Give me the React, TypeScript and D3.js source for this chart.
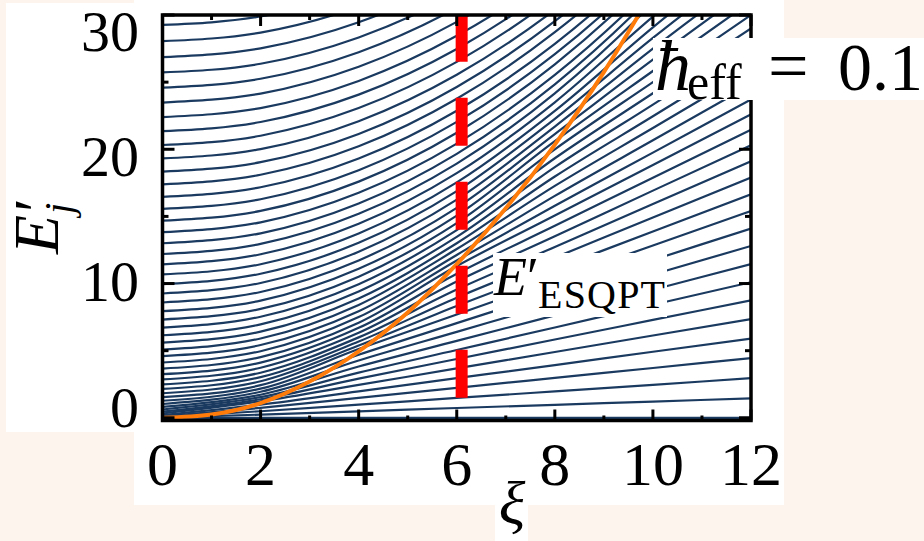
import React from "react";
import * as d3 from "d3";

const W = 924;
const H = 541;

// xi values at which every level was read
const levelXi = [0, 2, 4, 6, 8, 10, 12];

// levels that drop under the ESQPT curve inside the frame
const lowLevels: number[][] = [
  [0, 0, 0, 0, 0, 0, 0],
  [0.01, 0.24, 0.48, 0.73, 0.97, 1.21, 1.45],
  [0.05, 0.49, 0.98, 1.48, 1.97, 2.46, 2.95],
  [0.11, 0.74, 1.48, 2.23, 2.97, 3.71, 4.45],
  [0.2, 0.98, 1.97, 2.95, 3.93, 4.92, 5.9],
  [0.32, 1.23, 2.45, 3.68, 4.9, 6.13, 7.35],
  [0.46, 1.38, 2.92, 4.38, 5.83, 7.29, 8.75],
  [0.62, 1.54, 3.37, 5.05, 6.73, 8.42, 10.1],
  [0.81, 1.72, 3.82, 5.73, 7.63, 9.54, 11.45],
  [1.03, 1.94, 4.27, 6.4, 8.53, 10.67, 12.8],
  [1.27, 2.17, 4.7, 7.05, 9.4, 11.75, 14.1],
  [1.54, 2.43, 5.12, 7.7, 10.27, 12.83, 15.4],
  [1.83, 2.72, 5.38, 8.33, 11.1, 13.88, 16.65],
  [2.15, 3.03, 5.68, 8.95, 11.93, 14.92, 17.9],
  [2.49, 3.36, 5.99, 9.55, 12.73, 15.92, 19.1],
  [2.86, 3.73, 6.33, 10.15, 13.53, 16.92, 20.3],
  [3.25, 4.11, 6.7, 10.73, 14.3, 17.88, 21.45],
  [3.67, 4.52, 7.08, 11.3, 15.07, 18.83, 22.6],
  [4.12, 4.96, 7.5, 11.72, 15.8, 19.75, 23.7],
  [4.59, 5.42, 7.94, 12.13, 16.53, 20.67, 24.8],
  [5.08, 5.91, 8.41, 12.57, 17.27, 21.58, 25.9],
  [5.6, 6.42, 8.89, 13.0, 17.97, 22.46, 26.95],
  [6.15, 6.96, 9.41, 13.48, 18.67, 23.33, 28.0],
  [6.72, 7.53, 9.95, 13.98, 19.33, 24.17, 29.0],
  [7.32, 8.11, 10.51, 14.5, 20.0, 25.0, 30.0],
  [7.94, 8.73, 11.1, 15.06, 20.6, 25.83, 31.0],
  [8.59, 9.37, 11.72, 15.64, 21.13, 26.67, 32.0],
  [9.26, 10.04, 12.37, 16.25, 21.69, 27.5, 33.0],
  [9.96, 10.73, 13.03, 16.88, 22.27, 28.29, 33.95],
  [10.68, 11.44, 13.73, 17.53, 22.86, 29.08, 34.9],
  [11.43, 12.18, 14.45, 18.22, 23.5, 29.88, 35.85],
];

// levels that leave through the top edge
const highLevels: number[][] = [
  [12.2, 12.95, 15.19, 18.93, 24.17, 30.9, 39.1],
  [13.0, 13.74, 15.96, 19.66, 24.84, 31.5, 39.64],
  [13.83, 14.56, 16.76, 20.42, 25.54, 32.13, 40.18],
  [14.68, 15.41, 17.59, 21.23, 26.33, 32.88, 40.88],
  [15.56, 16.28, 18.44, 22.04, 27.08, 33.56, 41.48],
  [16.46, 17.17, 19.31, 22.87, 27.85, 34.26, 42.09],
  [17.39, 18.1, 20.22, 23.76, 28.72, 35.09, 42.88],
  [18.34, 19.04, 21.14, 24.64, 29.54, 35.84, 43.54],
  [19.32, 20.01, 22.09, 25.55, 30.39, 36.62, 44.23],
  [20.32, 21.01, 23.07, 26.51, 31.33, 37.52, 45.09],
  [21.35, 22.03, 24.07, 27.47, 32.23, 38.35, 45.83],
  [22.4, 23.07, 25.09, 28.45, 33.15, 39.2, 46.59],
  [23.48, 24.15, 26.15, 29.49, 34.17, 40.18, 47.53],
  [24.59, 25.25, 27.23, 30.53, 35.15, 41.09, 48.35],
  [25.72, 26.37, 28.33, 31.59, 36.15, 42.02, 49.19],
  [26.87, 27.52, 29.46, 32.7, 37.24, 43.07, 50.2],
  [28.05, 28.69, 30.61, 33.81, 38.29, 44.05, 51.09],
  [29.26, 29.89, 31.79, 34.95, 39.37, 45.06, 52.01],
];

// E'_ESQPT curve
const esqptXi = [0, 1, 2, 3, 4, 5, 6, 7, 8, 9, 10];
const esqptE = [0, 0.25, 1.1, 2.7, 4.95, 7.85, 11.45, 15.6, 20.35, 25.75, 31.8];

// dashed marker
const markXi = 6.1;
const markE = [1.5, 30.6];

const xMajor = [0, 2, 4, 6, 8, 10, 12];
const xMinor = [1, 3, 5, 7, 9, 11];
const yMajor = [0, 10, 20, 30];
const yMinor = [5, 15, 25];

const FONT = "'Liberation Serif', 'DejaVu Serif', serif";
const NAVY = "#1b3a60";

export default function App() {
  const x = d3.scaleLinear().domain([0, 12]).range([162.5, 751]);
  const y = d3.scaleLinear().domain([-0.2, 30]).range([420.5, 15]);
  // tick labels sit slightly squeezed with respect to the ticks
  const yLab = d3.scaleLinear().domain([0, 30]).range([407, 31]);

  const levelLine = d3
    .line<number>()
    .x((d, i) => x(levelXi[i]))
    .y((d) => y(d))
    .curve(d3.curveMonotoneX);

  const esqptLine = d3
    .line<number>()
    .x((d, i) => x(esqptXi[i]))
    .y((d) => y(d))
    .curve(d3.curveMonotoneX);

  const x0 = x(0), x1 = x(12);
  const yTop = y(30), yBot = y(-0.2);

  return (
    <svg
      width={W}
      height={H}
      style={{ position: "absolute", left: 0, top: 0, background: "#fdf4ee" }}
      fontFamily={FONT}
    >
      <defs>
        <clipPath id="plotclip">
          <rect x={x0} y={yTop} width={x1 - x0} height={yBot - yTop} />
        </clipPath>
      </defs>

      {/* white panels */}
      <rect x={6} y={3} width={130} height={429} fill="#fff" />
      <rect x={134} y={0} width={650} height={505} fill="#fff" />
      <rect x={495} y={505} width={33} height={36} fill="#fff" />

      <g clipPath="url(#plotclip)">
        {lowLevels.concat(highLevels).map((row, i) => (
          <path key={i} d={levelLine(row) || ""} fill="none" stroke={NAVY} strokeWidth={2.2} />
        ))}
        <path d={esqptLine(esqptE) || ""} fill="none" stroke="#ff7b0a" strokeWidth={4} />
        <line
          x1={x(markXi)}
          x2={x(markXi)}
          y1={y(markE[0])}
          y2={y(markE[1])}
          stroke="#ff0000"
          strokeWidth={12}
          strokeDasharray="48 36"
        />
      </g>

      {/* frame */}
      <rect x={x0} y={yTop} width={x1 - x0} height={yBot - yTop} fill="none" stroke="#000" strokeWidth={3.5} />
      <g stroke="#000" strokeWidth={3}>
        {xMajor.map((v) => (
          <g key={"xm" + v}>
            <line x1={x(v)} x2={x(v)} y1={yBot} y2={yBot - 11} />
            <line x1={x(v)} x2={x(v)} y1={yTop} y2={yTop + 11} />
          </g>
        ))}
        {xMinor.map((v) => (
          <g key={"xn" + v}>
            <line x1={x(v)} x2={x(v)} y1={yBot} y2={yBot - 5} />
            <line x1={x(v)} x2={x(v)} y1={yTop} y2={yTop + 5} />
          </g>
        ))}
        {yMajor.map((v) => (
          <g key={"ym" + v}>
            <line x1={x0} x2={x0 + 12} y1={y(v)} y2={y(v)} />
            <line x1={x1} x2={x1 - 12} y1={y(v)} y2={y(v)} />
          </g>
        ))}
        {yMinor.map((v) => (
          <g key={"yn" + v}>
            <line x1={x0} x2={x0 + 6} y1={y(v)} y2={y(v)} />
            <line x1={x1} x2={x1 - 6} y1={y(v)} y2={y(v)} />
          </g>
        ))}
      </g>

      {/* tick labels */}
      {yMajor.map((v) => (
        <text key={"yl" + v} x={139} y={yLab(v) + 19.6} textAnchor="end" fontSize={58}>
          {v}
        </text>
      ))}
      {xMajor.map((v) => (
        <text key={"xl" + v} x={x(v)} y={485} textAnchor="middle" fontSize={62}>
          {v}
        </text>
      ))}

      {/* axis titles */}
      <text x={512} y={524} textAnchor="middle" fontSize={62} fontStyle="italic">
        ξ
      </text>
      <g transform="translate(58,254) rotate(-90)">
        <text fontSize={64}>
          <tspan x={0} y={0} fontStyle="italic">E</tspan>
          <tspan x={42} y={0}>′</tspan>
          <tspan x={40} y={14} fontSize={40} fontStyle="italic">j</tspan>
        </text>
      </g>

      {/* ESQPT label */}
      <rect x={493} y={253} width={174} height={64} fill="#fff" />
      <text fontSize={54}>
        <tspan x={494} y={295} fontStyle="italic">E</tspan>
        <tspan x={527} y={295}>′</tspan>
        <tspan x={538} y={308} fontSize={40} letterSpacing={1.2}>ESQPT</tspan>
      </text>

      {/* hbar label */}
      <rect x={653} y={38} width={271} height={62} fill="#fff" />
      <text fontSize={72}>
        <tspan x={655} y={90} fontStyle="italic">ħ</tspan>
        <tspan x={687} y={99} fontSize={50}>eff</tspan>
        <tspan x={768} y={90}>=</tspan>
        <tspan x={838} y={90} fontSize={68}>0.1</tspan>
      </text>
    </svg>
  );
}
